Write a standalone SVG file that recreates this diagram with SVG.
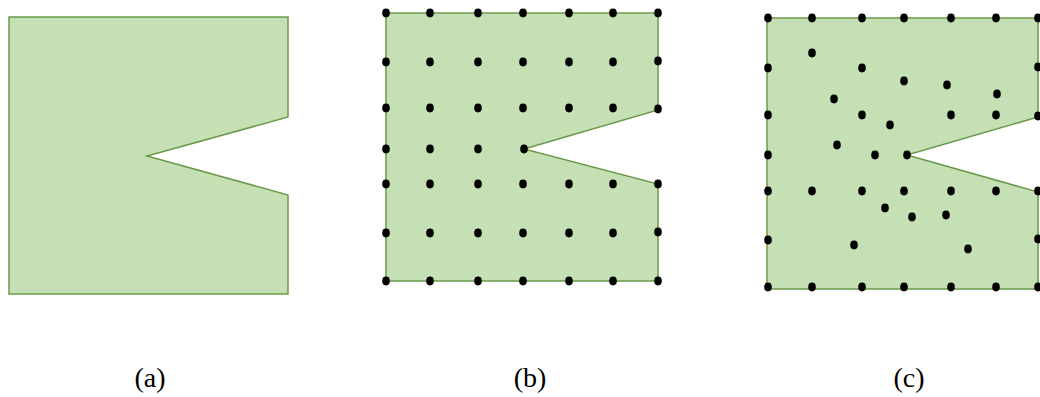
<svg xmlns="http://www.w3.org/2000/svg" width="1040" height="397" viewBox="0 0 1040 397">
<style>
.shape{fill:#c5e0b4;stroke:#6a9a48;stroke-width:1.5;stroke-linejoin:miter}
.d{fill:#000}
.lbl{font-family:"Liberation Serif",serif;font-size:28px;fill:#000;text-anchor:middle}
</style>
<defs><ellipse id="p" rx="3.8" ry="4.4" class="d"/></defs>
<g id="shape-a">
<polygon class="shape" points="9,17 288,17 288,117 147,156 288,195 288,294 9,294"/>
</g>
<g id="shape-b">
<polygon class="shape" points="386,13 658,13 658,110 524,149 658,184 658,281 386,281"/>
<g id="dots-b">
<use href="#p" x="386" y="13"/><use href="#p" x="430" y="13"/><use href="#p" x="478" y="13"/><use href="#p" x="523" y="13"/><use href="#p" x="569" y="13"/><use href="#p" x="613" y="13"/><use href="#p" x="658" y="13"/>
<use href="#p" x="386" y="62"/><use href="#p" x="430" y="62"/><use href="#p" x="478" y="62"/><use href="#p" x="523" y="62"/><use href="#p" x="569" y="62"/><use href="#p" x="613" y="62"/><use href="#p" x="658" y="61"/>
<use href="#p" x="386" y="108"/><use href="#p" x="430" y="108"/><use href="#p" x="478" y="108"/><use href="#p" x="523" y="108"/><use href="#p" x="569" y="108"/><use href="#p" x="613" y="108"/><use href="#p" x="658" y="109"/>
<use href="#p" x="386" y="149"/><use href="#p" x="430" y="149"/><use href="#p" x="478" y="149"/><use href="#p" x="524" y="149"/>
<use href="#p" x="386" y="184"/><use href="#p" x="430" y="184"/><use href="#p" x="478" y="184"/><use href="#p" x="523" y="184"/><use href="#p" x="569" y="184"/><use href="#p" x="613" y="184"/><use href="#p" x="658" y="184"/>
<use href="#p" x="386" y="233"/><use href="#p" x="430" y="233"/><use href="#p" x="478" y="233"/><use href="#p" x="523" y="233"/><use href="#p" x="569" y="233"/><use href="#p" x="613" y="233"/><use href="#p" x="658" y="232"/>
<use href="#p" x="386" y="281"/><use href="#p" x="430" y="281"/><use href="#p" x="478" y="281"/><use href="#p" x="523" y="281"/><use href="#p" x="569" y="281"/><use href="#p" x="613" y="281"/><use href="#p" x="658" y="281"/>
</g>
</g>
<g id="shape-c">
<polygon class="shape" points="767,18 1038,18 1038,117 907,155 1038,192 1038,289 767,289"/>
<g id="dots-c">
<use href="#p" x="768" y="18"/><use href="#p" x="812" y="18"/><use href="#p" x="862" y="18"/><use href="#p" x="904" y="18"/><use href="#p" x="951" y="18"/><use href="#p" x="996" y="18"/><use href="#p" x="1038" y="18"/>
<use href="#p" x="812" y="53"/>
<use href="#p" x="768" y="68"/><use href="#p" x="862" y="68"/><use href="#p" x="1038" y="67"/>
<use href="#p" x="904" y="81"/><use href="#p" x="947" y="85"/><use href="#p" x="997" y="94"/>
<use href="#p" x="834" y="99"/>
<use href="#p" x="768" y="115"/><use href="#p" x="862" y="115"/><use href="#p" x="951" y="115"/><use href="#p" x="996" y="115"/><use href="#p" x="1038" y="116"/>
<use href="#p" x="890" y="125"/>
<use href="#p" x="837" y="145"/>
<use href="#p" x="768" y="155"/><use href="#p" x="875" y="155"/><use href="#p" x="907" y="155"/>
<use href="#p" x="768" y="191"/><use href="#p" x="812" y="191"/><use href="#p" x="862" y="191"/><use href="#p" x="904" y="191"/><use href="#p" x="951" y="191"/><use href="#p" x="996" y="191"/><use href="#p" x="1038" y="191"/>
<use href="#p" x="885" y="208"/><use href="#p" x="912" y="217"/><use href="#p" x="946" y="215"/>
<use href="#p" x="768" y="240"/><use href="#p" x="854" y="245"/><use href="#p" x="968" y="249"/><use href="#p" x="1038" y="239"/>
<use href="#p" x="768" y="287"/><use href="#p" x="812" y="287"/><use href="#p" x="862" y="287"/><use href="#p" x="904" y="287"/><use href="#p" x="951" y="287"/><use href="#p" x="996" y="287"/><use href="#p" x="1038" y="287"/>
</g>
</g>
<g id="labels">
<text class="lbl" x="150" y="387">(a)</text>
<text class="lbl" x="530" y="387">(b)</text>
<text class="lbl" x="909" y="387">(c)</text>
</g>
</svg>
